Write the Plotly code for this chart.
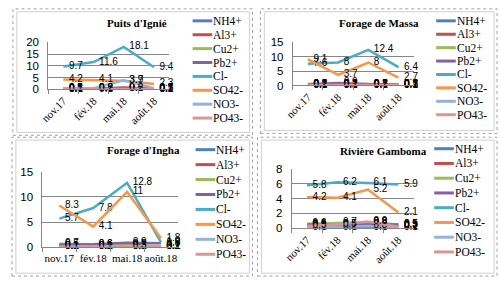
import plotly.graph_objects as go

months = ["nov.17", "fév.18", "mai.18", "août.18"]
ions = ["NH4+", "Al3+", "Cu2+", "Pb2+", "Cl-", "SO42-", "NO3-", "PO43-"]
ion_colors = ["#4F81BD", "#C0504D", "#9BBB59", "#8064A2", "#4BACC6", "#F79646", "#95B3D7", "#D99694"]

# values per ion (order of `ions`), per site
ignie = [
    [0.3, 0.3, 0.5, 0.2],
    [0.1, 0.1, 0.8, 0.1],
    [0.2, 0.2, 0.3, 0.1],
    [0.1, 0.5, 0.6, 0.3],
    [9.7, 11.6, 18.1, 9.4],
    [4.2, 4.1, 3.7, 2.3],
    [0.5, 0.5, 3.9, 0.5],
    [0.1, 0.2, 0.2, 0.1],
]
massa = [
    [0.2, 0.2, 0.1, 0.2],
    [0.1, 0.1, 0.3, 0.1],
    [0.5, 0.4, 0.3, 0.5],
    [0.4, 0.9, 0.5, 0.3],
    [7.6, 8, 12.4, 6.4],
    [9.1, 3.7, 8, 2.7],
    [0.1, 0.2, 0.1, 0.1],
    [0.2, 0.1, 0.2, 0.2],
]
ingha = [
    [0.1, 0.1, 0.1, 0.2],
    [0.2, 0.1, 0.1, 0.1],
    [0.7, 0.6, 0.5, 0.2],
    [0.5, 0.6, 0.9, 0.8],
    [5.7, 7.8, 12.8, 1.0],
    [8.3, 4.1, 11, 1.8],
    [0.1, 0.2, 0.1, 0.1],
    [0.1, 0.1, 0.3, 0.1],
]
gamboma = [
    [0.2, 0.1, 0.1, 0.2],
    [0.3, 0.5, 0.8, 0.3],
    [0.6, 0.7, 0.8, 0.5],
    [0.5, 0.4, 0.5, 0.5],
    [5.8, 6.2, 6.1, 5.9],
    [4.2, 4.1, 5.2, 2.1],
    [0.1, 0.2, 0.3, 0.1],
    [0.3, 0.5, 0.9, 0.2],
]

site_titles = ["Puits d'Ignié", "Forage de Massa", "Forage d'Ingha", "Rivière Gamboma"]
site_values = [ignie, massa, ingha, gamboma]
y_max = [20, 15, 15, 8]
y_step = [5, 5, 5, 2]

W, H = 500, 284
def px(x):
    return x / W
def py(y):
    return 1 - y / H

SERIF = "Liberation Serif"
SANS = "Liberation Sans"

# layout (pixels): plot area (x0, x1, y0, y1), title pos, legend (line x0, y first, spacing), tick angle
panel_layout = [
    dict(plot=(40, 163, 38, 87), title=(130, 18), leg=(187, 15.5, 14.5), angle=-45,
         box=(4, 3, 248, 135)),
    dict(plot=(289, 412, 38, 83), title=(377, 18), leg=(435, 15.5, 14.0), angle=-45,
         box=(256, 3, 497, 133)),
    dict(plot=(34, 172, 173, 252), title=(137, 150), leg=(190, 150, 15.6), angle=0,
         box=(3, 137, 248, 282)),
    dict(plot=(288, 412, 170, 232), title=(381, 151), leg=(433, 149, 15.4), angle=-45,
         box=(253, 137, 497, 282)),
]

fig = go.Figure()
layout = dict(width=W, height=H, margin=dict(l=0, r=0, t=0, b=0),
              paper_bgcolor="white", plot_bgcolor="rgba(0,0,0,0)", showlegend=False)
shapes = []
annotations = []

for p, (title, vals, ymax, ystep, pl) in enumerate(zip(site_titles, site_values, y_max, y_step, panel_layout)):
    sfx = "" if p == 0 else str(p + 1)
    xa, ya = "x" + sfx, "y" + sfx
    x0, x1, y0, y1 = pl["plot"]
    for name, color, series in zip(ions, ion_colors, vals):
        fig.add_trace(go.Scatter(
            x=months, y=series, xaxis=xa, yaxis=ya, name=name,
            mode="lines+text", text=["  " + str(v) for v in series], textposition="middle right",
            textfont=dict(family=SANS, size=10, color="black"),
            line=dict(color=color, width=2.5), cliponaxis=False, hoverinfo="skip"))
    layout["xaxis" + sfx] = dict(
        domain=[px(x0), px(x1)], anchor=ya, type="category", range=[-0.5, 3.5],
        showgrid=False, showline=True, linecolor="#868686", linewidth=1,
        ticks="outside", tickson="boundaries", ticklen=4, tickcolor="#868686",
        tickangle=pl["angle"], tickfont=dict(family=SERIF, size=11, color="black"))
    layout["yaxis" + sfx] = dict(
        domain=[py(y1), py(y0)], anchor=xa, range=[0, ymax], dtick=ystep,
        showgrid=True, gridcolor="#868686", gridwidth=1, zeroline=False,
        showline=True, linecolor="#868686", linewidth=1, ticks="", ticklabelstandoff=6,
        tickfont=dict(family=SANS, size=11.5, color="black"))
    tx, ty = pl["title"]
    annotations.append(dict(text="<b>" + title + "</b>", x=px(tx), y=py(ty), xref="paper", yref="paper",
                            xanchor="center", yanchor="middle", showarrow=False,
                            font=dict(family=SERIF, size=11, color="black")))
    lx, ly, ls = pl["leg"]
    for i, (name, color) in enumerate(zip(ions, ion_colors)):
        yy = ly + i * ls
        shapes.append(dict(type="line", xref="paper", yref="paper", x0=px(lx), x1=px(lx + 20),
                           y0=py(yy), y1=py(yy), line=dict(color=color, width=3)))
        annotations.append(dict(text=name, x=px(lx + 20), y=py(yy), xref="paper", yref="paper",
                                xanchor="left", yanchor="middle", showarrow=False, borderpad=0,
                                font=dict(family=SERIF, size=11.5, color="black")))
    bx0, by0, bx1, by1 = pl["box"]
    shapes.append(dict(type="rect", xref="paper", yref="paper", x0=px(bx0), x1=px(bx1),
                       y0=py(by1), y1=py(by0), line=dict(color="#A0A0A0", width=1, dash="dot")))
    shapes.append(dict(type="rect", xref="paper", yref="paper", x0=px(bx0 + 4), x1=px(bx1 - 3),
                       y0=py(by1 - 3), y1=py(by0 + 3), line=dict(color="#D0D0D0", width=1)))

layout["shapes"] = shapes
layout["annotations"] = annotations
fig.update_layout(**layout)
fig.write_html("out.html", config={"displayModeBar": False},
               post_script="document.body.style.margin='0';")
